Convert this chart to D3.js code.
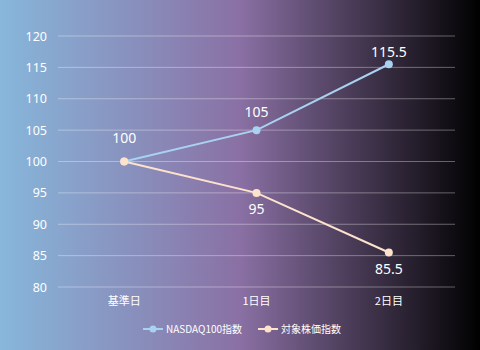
<!DOCTYPE html>
<html>
<head>
<meta charset="utf-8">
<script src="https://cdn.jsdelivr.net/npm/d3@7"></script>
<style>
  html, body { margin: 0; padding: 0; background: #000; }
  svg { display: block; }
  text { fill: #ffffff; }
  .cjk { font-family: "Noto Sans CJK JP", "Noto Sans", sans-serif; }
  .num { font-family: "Noto Sans", "DejaVu Sans", sans-serif; }
</style>
</head>
<body>
<svg id="chart" width="480" height="350"></svg>
<script>
// Index values per day
const categories = ["基準日", "1日目", "2日目"];
const nasdaqValues = [100, 105, 115.5];
const stockValues = [100, 95, 85.5];
const seriesNames = ["NASDAQ100指数", "対象株価指数"];
const yTicks = [80, 85, 90, 95, 100, 105, 110, 115, 120];

const W = 480, H = 350;
const margin = { left: 58, right: 25, top: 36, bottom: 63 };

const svg = d3.select("#chart");

// Background gradient: light blue → purple → black
const defs = svg.append("defs");
const grad = defs.append("linearGradient").attr("id", "bg").attr("x1", "0%").attr("x2", "100%").attr("y1", "0%").attr("y2", "0%");
grad.append("stop").attr("offset", "0%").attr("stop-color", "#87b7db");
grad.append("stop").attr("offset", "50%").attr("stop-color", "#8a70a4");
grad.append("stop").attr("offset", "100%").attr("stop-color", "#000000");
svg.append("rect").attr("width", W).attr("height", H).attr("fill", "url(#bg)");

const x = d3.scaleBand().domain(categories).range([margin.left, W - margin.right]);
const y = d3.scaleLinear().domain([80, 120]).range([H - margin.bottom, margin.top]);
const cx = i => x(categories[i]) + x.bandwidth() / 2;

// Horizontal grid lines
svg.append("g").selectAll("line").data(yTicks).join("line")
  .attr("x1", margin.left).attr("x2", W - margin.right)
  .attr("y1", d => y(d)).attr("y2", d => y(d))
  .attr("stroke", "rgba(255,255,255,0.35)").attr("stroke-width", 1);

// Y axis labels
const yAxis = d3.axisLeft(y).tickValues(yTicks).tickSize(0).tickPadding(11);
const yg = svg.append("g").attr("transform", `translate(${margin.left},0)`).call(yAxis);
yg.select(".domain").remove();
yg.selectAll("text").attr("class", "num").attr("font-size", 12.5).attr("font-family", null).style("fill", "#fff");

// X axis labels
const xAxis = d3.axisBottom(x).tickSize(0).tickPadding(10);
const xg = svg.append("g").attr("transform", `translate(0,${H - margin.bottom})`).call(xAxis);
xg.select(".domain").remove();
xg.selectAll("text").attr("class", "cjk").attr("font-size", 11).attr("font-family", null).style("fill", "#fff");

const series = [
  { name: seriesNames[0], values: nasdaqValues, color: "#a9d1f0" },
  { name: seriesNames[1], values: stockValues, color: "#fde2cc" }
];

const line = d3.line().x((d, i) => cx(i)).y(d => y(d));

series.forEach(s => {
  svg.append("path").datum(s.values)
    .attr("d", line).attr("fill", "none")
    .attr("stroke", s.color).attr("stroke-width", 2);
  svg.append("g").selectAll("circle").data(s.values).join("circle")
    .attr("cx", (d, i) => cx(i))
    .attr("cy", d => y(d)).attr("r", 4).attr("fill", s.color);
});

// Value labels: upper series above its points, lower series below (shared start gets one label)
const aboveOffsets = [-19, -13, -7];
const belowOffsets = [0, 21, 22];
const labels = [];
nasdaqValues.forEach((v, i) => labels.push({ i, v, dy: aboveOffsets[i] }));
stockValues.forEach((v, i) => { if (i > 0) labels.push({ i, v, dy: belowOffsets[i] }); });
svg.append("g").selectAll("text").data(labels).join("text")
  .attr("class", "num")
  .attr("x", d => cx(d.i))
  .attr("y", d => y(d.v) + d.dy)
  .attr("text-anchor", "middle")
  .attr("font-size", 14)
  .text(d => d.v);

// Legend
const legendY = 329;
const legendX = [143, 258];
series.forEach((s, k) => {
  const g = svg.append("g").attr("transform", `translate(${legendX[k]},${legendY})`);
  g.append("line").attr("x1", 0).attr("x2", 20).attr("y1", 0).attr("y2", 0)
    .attr("stroke", s.color).attr("stroke-width", 2);
  g.append("circle").attr("cx", 10).attr("cy", 0).attr("r", 3.5).attr("fill", s.color);
  g.append("text").attr("class", "cjk").attr("x", 23).attr("y", 0).attr("dy", "0.35em")
    .attr("font-size", 10).text(s.name);
});
</script>
</body>
</html>
